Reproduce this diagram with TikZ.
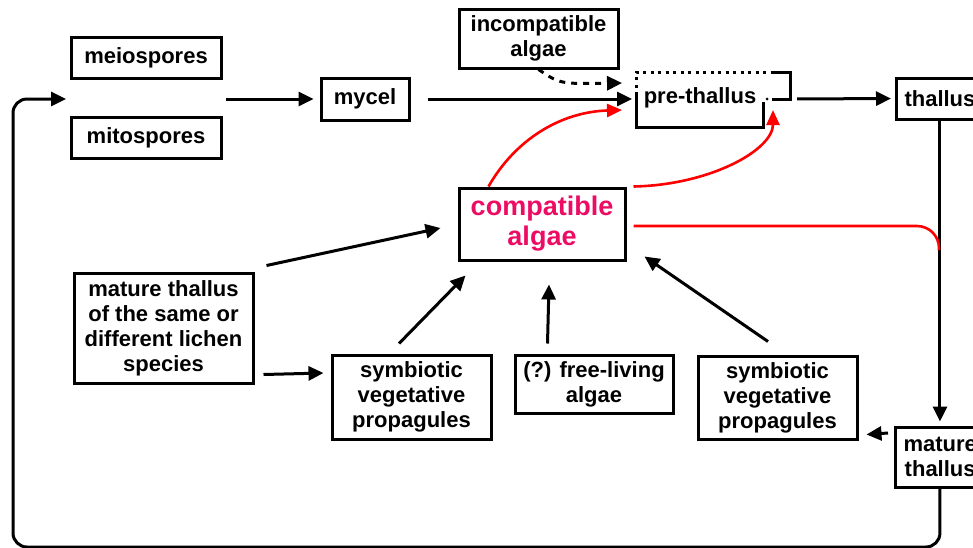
\documentclass[tikz,border=0pt]{standalone}
\usepackage{fontspec}
\setmainfont{Liberation Sans}
\usetikzlibrary{arrows.meta,calc}
\definecolor{compink}{RGB}{236,12,100}
\begin{document}
\begin{tikzpicture}[x=1pt,y=-1pt,
  lbl/.style={font=\bfseries\fontsize{22}{25}\selectfont,align=center,inner sep=0pt},
  box/.style={lbl,draw,line width=3pt},
  arr/.style={line width=3pt,-{Triangle[length=15pt,width=14pt]}},
  redarr/.style={red,line width=2.6pt,-{Triangle[length=15pt,width=13pt]}},
  dotline/.style={line width=3pt,dash pattern=on 3pt off 4.5pt},
  solidline/.style={line width=3pt},
]
\useasboundingbox (0,0) rectangle (973,547);
\clip (0,0) rectangle (973,547);

% nodes
\node[box,minimum width=150pt,minimum height=41pt] (meio) at (146,57.5) {meiospores};
\node[box,minimum width=150pt,minimum height=41pt] (mito) at (146,137.5) {mitospores};
\node[box,minimum width=88pt,minimum height=42pt] (mycel) at (365,99) {mycel};
\node[box,minimum width=159pt,minimum height=59pt] (inc) at (538.5,38.5) {incompatible\\algae};
\node[lbl] (pt) at (700,98) {pre-thallus};
\node[box,anchor=west,inner xsep=8pt,minimum height=41pt] (thal) at (895,98.5) {thallus};
\node[box,anchor=west,inner xsep=8pt,minimum height=60pt] (matR) at (894,457) {mature\\thallus};
\node[box,minimum width=166pt,minimum height=72pt,text=compink,font=\bfseries\fontsize{27}{30}\selectfont] (compat) at (542,224) {compatible\\algae};
\node[box,minimum width=179pt,minimum height=110pt] (matL) at (163.5,328) {mature thallus\\of the same or\\different lichen\\species};
\node[box,minimum width=159pt,minimum height=84pt] (symbA) at (411.5,397) {symbiotic\\vegetative\\propagules};
\node[box,minimum width=158pt,minimum height=58pt] (free) at (594,384) {(?) free-living\\algae};
\node[box,minimum width=159pt,minimum height=83pt] (symbB) at (777.5,397.5) {symbiotic\\vegetative\\propagules};

% pre-thallus outline
\draw[dotline] (636,95) -- (636,72) -- (772,72);
\draw[solidline] (772,72) -- (790,72) -- (790,99) -- (772,99);
\fill (767,99) circle (1.5);
\draw[solidline] (763,102) -- (763,127) -- (636,127) -- (636,95);

% named coordinates
\coordinate (spin) at (66,99);
\coordinate (spout) at (226,99);
\coordinate (ptW) at (636,99);
\coordinate (ptE) at (790,99);
\coordinate (ptDash) at (622,83);
\coordinate (ptR1) at (622,110);
\coordinate (ptR2) at (773,110);
\coordinate (loopL) at (13,547);
\coordinate (redend) at (939,250);

% connectors
\draw[arr,rounded corners=14pt] (thal.south |- matR.south) |- (loopL) |- (spin);
\draw[arr,shorten >=6pt] (spout) -- (mycel.west);
\draw[arr,shorten <=17pt,shorten >=4pt] (mycel.east) -- (ptW);
\draw[arr,shorten <=7pt,shorten >=4pt] (ptE) -- (thal.west);
\draw[arr,shorten >=4pt] (thal.south) -- (thal.south |- matR.north);
\draw[line width=3pt,dash pattern=on 6pt off 6pt,-{Triangle[length=15pt,width=14pt]}] (inc.south) .. controls (560,84) .. (ptDash);

\draw[redarr] ([shift={(31,0)}]compat.north west) .. controls (515,140) and (560,112) .. (ptR1);
\draw[redarr] ([shift={(7,0)}]compat.north east) .. controls (710,185) and (773,150) .. (ptR2);
\draw[red,line width=2.6pt,rounded corners=22pt] ([shift={(7,2)}]compat.east) -| (redend);

\draw[arr] ([shift={(12,-6)}]matL.north east) -- ([shift={(-17,4)}]compat.west);
\draw[arr] ([shift={(9,-10)}]matL.south east) -- ([shift={(-7,-24)}]symbA.west);
\draw[arr] ([shift={(-12.5,-10)}]symbA.north) -- ([shift={(8,14)}]compat.south west);
\draw[arr] ([shift={(34,-10)}]free.north west) -- ([shift={(7,23)}]compat.south);
\draw[arr] ([shift={(-9.5,-13)}]symbB.north) -- ([shift={(18,-5)}]compat.south east);
\draw[arr] ([shift={(-6,-24)}]matR.west) -- ([shift={(8,-6)}]symbB.south east);
\end{tikzpicture}
\end{document}
